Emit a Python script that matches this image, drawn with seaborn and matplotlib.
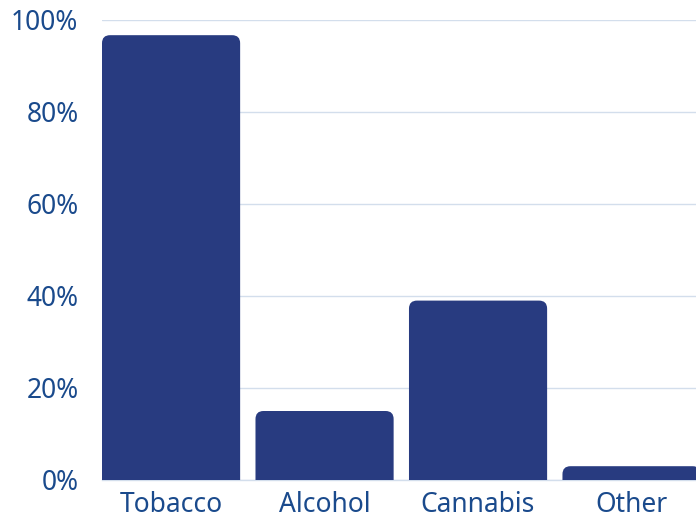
import matplotlib
matplotlib.use("Agg")
import matplotlib.pyplot as plt
import seaborn as sns
import pandas as pd
from matplotlib.patches import FancyBboxPatch
from matplotlib.ticker import FuncFormatter

categories = ["Tobacco", "Alcohol", "Cannabis", "Other"]
values = [96.7, 15.0, 39.0, 3.0]
yticks = [0, 20, 40, 60, 80, 100]

bar_color = "#283b80"
text_color = "#1a4a8c"
grid_color = "#d3deec"

sns.set_theme(style="white")
plt.rcParams["font.family"] = ["Noto Sans", "DejaVu Sans"]

df = pd.DataFrame({"substance": categories, "share": values})

fig = plt.figure(figsize=(6.96, 5.19), dpi=100)
ax = fig.add_axes([102 / 696, 39 / 519, 594 / 696, 460 / 519])

sns.barplot(data=df, x="substance", y="share", color=bar_color, width=0.9,
            saturation=1, ax=ax, zorder=3)

ax.set_xlim(-0.45, 3.42)
ax.set_ylim(0, 100)

# round the top corners of each bar
px_x = 594 / (3.42 + 0.45)
px_y = 460 / 100
radius_px = 8
for p in list(ax.patches):
    x0, w, h = p.get_x(), p.get_width(), p.get_height()
    p.remove()
    rb = FancyBboxPatch((x0, -10), w, h + 10,
                        boxstyle=f"round,pad=0,rounding_size={radius_px / px_x}",
                        mutation_aspect=px_x / px_y,
                        facecolor=bar_color, edgecolor="none", zorder=3)
    ax.add_patch(rb)

ax.set_yticks(yticks)
ax.yaxis.set_major_formatter(FuncFormatter(lambda v, _: f"{v:.0f}%"))
ax.grid(axis="y", color=grid_color, linewidth=1, zorder=0)
ax.grid(axis="x", visible=False)
for side in ["left", "right", "top"]:
    ax.spines[side].set_visible(False)
ax.spines["bottom"].set_color(grid_color)
ax.spines["bottom"].set_linewidth(1)

ax.tick_params(axis="y", length=0, pad=17, labelsize=19, labelcolor=text_color)
ax.tick_params(axis="x", length=0, pad=8, labelsize=19, labelcolor=text_color)
ax.set_xlabel("")
ax.set_ylabel("")

fig.savefig("out.png", dpi=100)
